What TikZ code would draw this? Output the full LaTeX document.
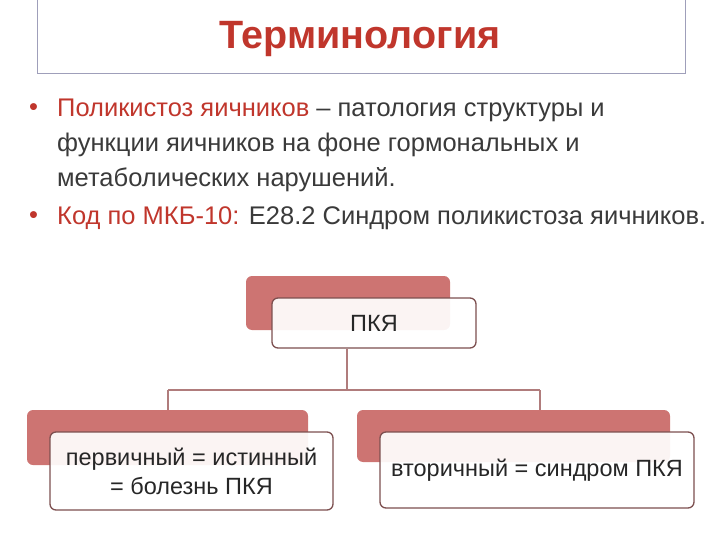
\documentclass[tikz,border=0pt]{standalone}
\usepackage{fontspec}
\setmainfont{Liberation Sans}
\begin{document}
\begin{tikzpicture}[x=1pt,y=-1pt,
 back/.style={fill=backc,rounded corners=6pt},
 front/.style={draw=edgec,line width=1.3pt,fill=white,fill opacity=0.92,text opacity=1,rounded corners=6pt,align=center,font=\fontsize{23.5}{29}\selectfont,text=black!85},
 conn/.style={draw=connc,line width=1.2pt},
 btxt/.style={anchor=west,font=\fontsize{25.5}{28}\selectfont,text=txtc,inner sep=0pt}]
\definecolor{backc}{HTML}{CD7472}
\definecolor{edgec}{HTML}{7D5050}
\definecolor{connc}{HTML}{B07C7C}
\definecolor{redc}{HTML}{C0362C}
\definecolor{txtc}{HTML}{3A3A3A}
\useasboundingbox (0,0) rectangle (720,540);
\node[draw=black!30!blue!25!gray!60,line width=1pt,minimum width=648pt,minimum height=74pt,inner sep=0pt] (title) at (361,37) {};
\node[text=redc,font=\fontsize{39.5}{44}\selectfont\bfseries] (tt) at (360,39) {Терминология};
\node[btxt,text=redc] (b1) at (29,110) {•};
\node[btxt] (l1) at (57,110) {\textcolor{redc}{Поликистоз яичников} – патология структуры и};
\node[btxt] (l2) at (57,145) {функции яичников на фоне гормональных и};
\node[btxt] (l3) at (57,180) {метаболических нарушений.};
\node[btxt,text=redc] (b2) at (29,218) {•};
\node[btxt] (l4) at (57,218) {\textcolor{redc}{Код по МКБ-10:} E28.2 Синдром поликистоза яичников.};
% top
\fill[back] (246,276) rectangle (450,330);
\node[front,minimum width=204pt,minimum height=50pt] (pky) at (374,323) {ПКЯ};
% left
\fill[back] (27,410) rectangle (308,465);
\node[front,minimum width=283pt,minimum height=78pt] (left) at (191.5,471) {первичный = истинный\\= болезнь ПКЯ};
% right
\fill[back] (357,410) rectangle (670,462);
\node[front,minimum width=314pt,minimum height=76pt] (right) at (537,470) {вторичный = синдром ПКЯ};
\coordinate (j) at (347,390);
\coordinate (jl) at (168,390);
\coordinate (jr) at (540,390);
\draw[conn] (pky.south -| j) -- (j);
\draw[conn] (jl) -- (jr);
\draw[conn] (jl) -- (168,410);
\draw[conn] (jr) -- (540,410);
\end{tikzpicture}
\end{document}
